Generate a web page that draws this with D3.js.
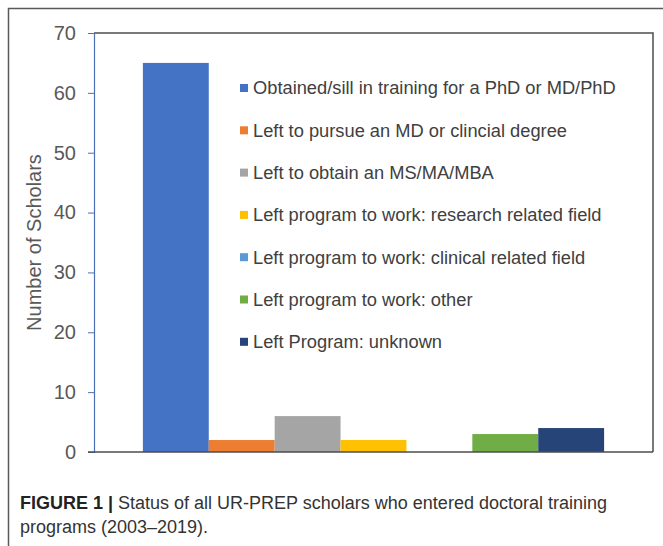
<!DOCTYPE html>
<html>
<head>
<meta charset="utf-8">
<script src="https://cdn.jsdelivr.net/npm/d3@7"></script>
<style>
  body { margin: 0; background: #fff; }
  svg { display: block; font-family: "Liberation Sans", Arial, sans-serif; }
</style>
</head>
<body>
<svg id="chart"></svg>
<script>
// data
const groups = ["All scholars"];
const seriesNames = [
  "Obtained/sill in training for a PhD or MD/PhD",
  "Left to pursue an MD or clincial degree",
  "Left to obtain an MS/MA/MBA",
  "Left program to work: research related field",
  "Left program to work: clinical related field",
  "Left program to work: other",
  "Left Program: unknown"
];
const seriesValues = [65, 2, 6, 2, 0, 3, 4];
const seriesColors = ["#4472c4", "#ed7d31", "#a5a5a5", "#ffc000", "#5b9bd5", "#70ad47", "#264478"];
const yTicks = [0, 10, 20, 30, 40, 50, 60, 70];

const width = 663;
const height = 546;
const marginTop = 33;
const marginLeft = 94;
const marginRight = 10;
const plotBottom = 452;

const svg = d3.select("#chart")
    .attr("width", width)
    .attr("height", height)
    .attr("viewBox", [0, 0, width, height]);

// outer figure frame (top + left edges)
svg.append("path")
    .attr("d", `M8.5,${height} V8.5 H${width}`)
    .attr("fill", "none")
    .attr("stroke", "#5a5a5a")
    .attr("stroke-width", 1.5);

const x0 = d3.scaleBand(groups, [marginLeft, width - marginRight])
    .paddingInner(0)
    .paddingOuter(0.106);
const x1 = d3.scaleBand(seriesNames, [0, x0.bandwidth()]);
const y = d3.scaleLinear([0, 70], [plotBottom, marginTop]);

// bars
svg.append("g")
    .selectAll("rect")
    .data(seriesNames.map((name, i) => ({group: groups[0], name, value: seriesValues[i], color: seriesColors[i]})))
    .join("rect")
    .attr("x", d => x0(d.group) + x1(d.name))
    .attr("width", x1.bandwidth())
    .attr("y", d => y(d.value))
    .attr("height", d => y(0) - y(d.value))
    .attr("fill", d => d.color);

// plot box top + right
svg.append("path")
    .attr("d", `M${marginLeft},${marginTop} H${width - marginRight} V${plotBottom}`)
    .attr("fill", "none")
    .attr("stroke", "#4d4d4d")
    .attr("stroke-width", 1.5);

// y axis
const yAxis = svg.append("g")
    .attr("transform", `translate(${marginLeft},0)`)
    .call(d3.axisLeft(y).tickValues(yTicks).tickSize(6).tickPadding(12));
yAxis.select(".domain").attr("stroke", "#4a6fb5").attr("stroke-width", 1.2);
yAxis.selectAll(".tick line").attr("stroke", "#4a6fb5");
yAxis.selectAll(".tick text")
    .attr("fill", "#595959")
    .attr("font-size", 20)
    .attr("font-family", "Liberation Sans, Arial, sans-serif");

// x baseline
svg.append("line")
    .attr("x1", marginLeft - 6)
    .attr("x2", width - marginRight)
    .attr("y1", y(0))
    .attr("y2", y(0))
    .attr("stroke", "#4d4d4d")
    .attr("stroke-width", 1.5);

// y title
svg.append("text")
    .attr("transform", `translate(41,${(marginTop + plotBottom) / 2}) rotate(-90)`)
    .attr("text-anchor", "middle")
    .attr("fill", "#595959")
    .attr("font-size", 20)
    .text("Number of Scholars");

// legend
const legend = svg.append("g").attr("transform", "translate(240,88)");
const rows = legend.selectAll("g")
    .data(seriesNames)
    .join("g")
    .attr("transform", (d, i) => `translate(0,${i * 42.3})`);
rows.append("rect")
    .attr("x", 0)
    .attr("y", -4)
    .attr("width", 8)
    .attr("height", 8)
    .attr("fill", (d, i) => seriesColors[i]);
rows.append("text")
    .attr("x", 13)
    .attr("dy", "0.35em")
    .attr("fill", "#404040")
    .attr("font-size", 18.3)
    .text(d => d);

// caption
const caption = svg.append("text")
    .attr("x", 20)
    .attr("y", 509)
    .attr("fill", "#333")
    .attr("font-size", 18);
caption.append("tspan")
    .attr("font-weight", "bold")
    .attr("fill", "#222")
    .text("FIGURE 1 | ");
caption.append("tspan")
    .text("Status of all UR-PREP scholars who entered doctoral training");
svg.append("text")
    .attr("x", 20)
    .attr("y", 533)
    .attr("fill", "#333")
    .attr("font-size", 18)
    .text("programs (2003–2019).");
</script>
</body>
</html>
